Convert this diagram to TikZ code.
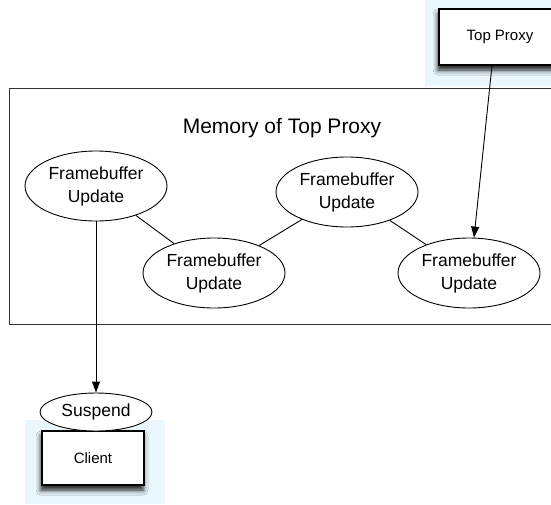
\documentclass[tikz,border=0pt]{standalone}
\usepackage{fontspec}
\setmainfont{Liberation Sans}
\usetikzlibrary{arrows.meta,shapes.geometric,shadows.blur,positioning}
\definecolor{glow}{RGB}{234,247,253}

\begin{document}
\begin{tikzpicture}[x=1pt, y=-1pt,
        update/.style={ellipse, draw, fill=white, line width=0.9pt, minimum width=142pt, minimum height=70pt, inner sep=0pt, align=center, font=\fontsize{17.5}{23}\selectfont},
        host/.style={rectangle, draw, fill=white, line width=1.2pt, font=\fontsize{15}{18}\selectfont, blur shadow={shadow xshift=-1pt, shadow yshift=-5pt, shadow blur radius=5pt, shadow opacity=90}},
        frame/.style={rectangle, draw=black!80, line width=1.1pt, anchor=north west},
        halo/.style={fill=glow, draw=none},
        link/.style={line width=0.9pt},
        arrow/.style={-{Triangle[length=11pt, width=8pt]}, line width=0.9pt}
    ]
    \useasboundingbox (0,0) rectangle (551,504);
    \fill[halo] (425,0) rectangle (551,86);
    \fill[halo] (25,420) rectangle (165,504);
    \node[frame, minimum width=552pt, minimum height=236pt] (mem) at (9,88) {};
    \node[font=\fontsize{21}{25}\selectfont] (title) at (282,128) {Memory of Top Proxy};
    \node[host, minimum width=122pt, minimum height=56pt] (tp) at (500,37) {Top Proxy};
    \node[update] (fb1) at (96,186) {Framebuffer\\Update};
    \node[update] (fb2) at (214,273) {Framebuffer\\Update};
    \node[update] (fb3) at (347,192) {Framebuffer\\Update};
    \node[update] (fb4) at (469,273) {Framebuffer\\Update};
    \node[host, minimum width=102pt, minimum height=54pt] (client) at (93,458) {Client};
    \node[update, minimum width=112pt, minimum height=38pt] (susp) at (96,412) {Suspend};
    \draw[link] (fb1) -- (fb2);
    \draw[link] (fb2) -- (fb3);
    \draw[link] (fb3) -- (fb4);
    \draw[arrow] ([xshift=-8pt]tp.south) -- ([xshift=5pt]fb4.north);
    \draw[arrow] (fb1.south) -- (susp.north);
\end{tikzpicture}
\end{document}
